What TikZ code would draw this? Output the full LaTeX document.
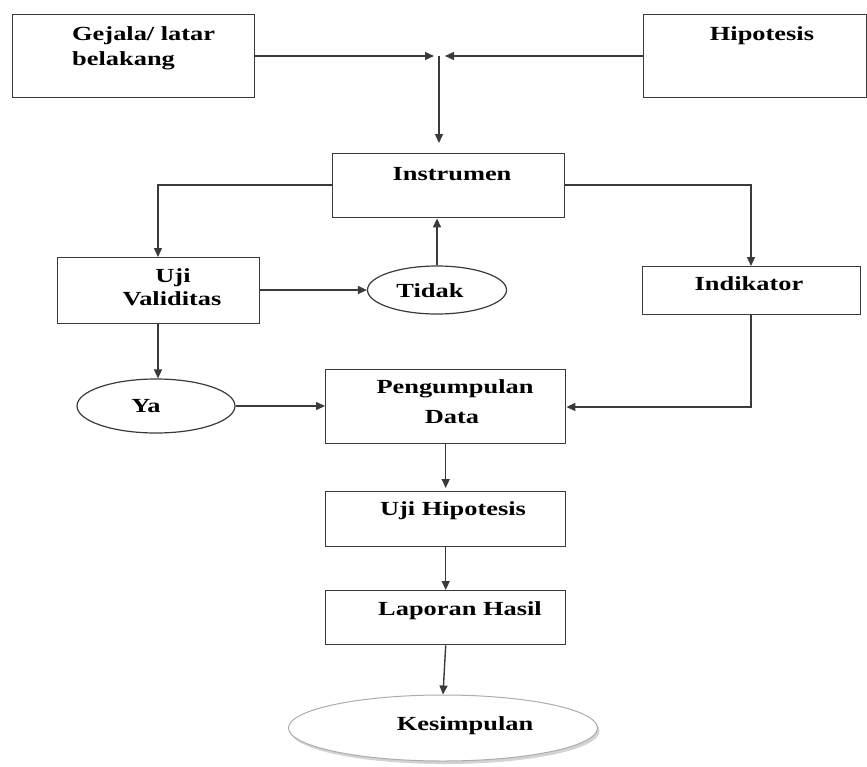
\documentclass[tikz,border=0pt]{standalone}
\usepackage{fontspec}
\setmainfont{Liberation Serif}[FakeStretch=1.32]
\usetikzlibrary{arrows.meta,shadows,shapes.geometric}
\definecolor{ln}{HTML}{3A3A3A}
\begin{document}
\begin{tikzpicture}[x=1pt,y=-1pt,
  box/.style={draw=ln,line width=1.4pt,rectangle,inner sep=0pt,anchor=north west},
  oval/.style={draw=ln,line width=1.2pt,ellipse,inner sep=0pt},
  txt/.style={font=\fontsize{20}{24}\selectfont\bfseries,anchor=base,inner sep=0pt,text=black},
  conn/.style={draw=ln,line width=1.4pt},
  arr/.style={conn,-{Triangle[length=9pt,width=8pt]}}]
\useasboundingbox (0,0) rectangle (867,766);
% boxes
\node[box,minimum width=242pt,minimum height=83pt] (gej) at (12,14) {};
\node[box,minimum width=223pt,minimum height=83pt] (hip) at (643,14) {};
\node[box,minimum width=232pt,minimum height=64pt] (ins) at (332,153) {};
\node[box,minimum width=202pt,minimum height=66pt] (uji) at (57,257) {};
\node[box,minimum width=218pt,minimum height=48pt] (ind) at (642,266) {};
\node[box,minimum width=240pt,minimum height=74pt] (pen) at (325,369) {};
\node[box,minimum width=240pt,minimum height=55pt] (ujh) at (325,491) {};
\node[box,minimum width=240pt,minimum height=54pt] (lap) at (325,590) {};
\node[oval,minimum width=139pt,minimum height=48pt] (tid) at (437,290) {};
\node[oval,minimum width=158pt,minimum height=54pt] (ya) at (156,406) {};
\node[oval,draw=gray!65,line width=1pt,fill=white,minimum width=309pt,minimum height=66pt,
  drop shadow={opacity=0.35,shadow xshift=2pt,shadow yshift=-3pt}] (kes) at (443,728) {};
% texts
\node[txt,anchor=base west] (tgej1) at (72,40) {Gejala/ latar};
\node[txt,anchor=base west] (tgej2) at (72,65) {belakang};
\node[txt] (thip) at (762,40) {Hipotesis};
\node[txt] (tins) at (452,180) {Instrumen};
\node[txt] (tuji1) at (173,282) {Uji};
\node[txt] (tuji2) at (172,305) {Validitas};
\node[txt] (ttid) at (430,297) {Tidak};
\node[txt] (tind) at (749,290) {Indikator};
\node[txt] (tya) at (146,412) {Ya};
\node[txt] (tpen1) at (455,393) {Pengumpulan};
\node[txt] (tpen2) at (452,423) {Data};
\node[txt] (tujh) at (453,515) {Uji Hipotesis};
\node[txt] (tlap) at (460,615) {Laporan Hasil};
\node[txt] (tkes) at (465,730) {Kesimpulan};
% connectors
\coordinate (J) at (439,56);
\draw[arr,shorten >=5pt] (gej.east |- J) -- (J);
\draw[arr,shorten >=6pt] (hip.west |- J) -- (J);
\draw[arr,shorten >=10pt] (J) -- (J |- ins.north);
\coordinate (L) at (158,185);
\coordinate (R) at (751,185);
\draw[arr] (ins.west |- L) -- (L) -- (L |- uji.north);
\draw[arr] (ins.east |- R) -- (R) -- (R |- ind.north);
\draw[arr] (uji.east |- tid.west) -- (tid.west);
\draw[arr] (tid.north) -- (tid.north |- ins.south);
\draw[arr] (uji.south -| L) -- (ya.north -| L);
\draw[arr] (ya.east) -- (ya.east -| pen.west);
\coordinate (R2) at (751,407);
\draw[arr] (ind.south -| R2) -- (R2) -- (R2 -| pen.east);
\draw[arr,shorten >=3pt] (pen.south) -- (ujh.north);
\draw[arr] (ujh.south) -- (lap.north);
\draw[arr] (lap.south) -- (kes.north);
\end{tikzpicture}
\end{document}
